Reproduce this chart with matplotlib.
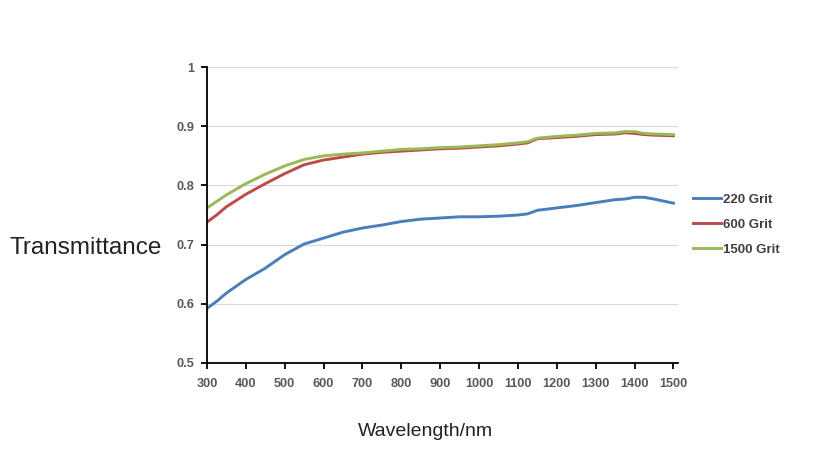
import matplotlib
matplotlib.use('Agg')
import matplotlib.pyplot as plt


WAVELENGTH = [300, 325, 350, 400, 450, 500, 550, 600, 650, 700, 750, 800,
              850, 900, 950, 1000, 1050, 1100, 1125, 1150, 1200, 1250, 1300,
              1350, 1375, 1400, 1425, 1450, 1500]
GRIT_220 = [0.592, 0.604, 0.618, 0.641, 0.660, 0.683, 0.701, 0.711, 0.721,
            0.728, 0.733, 0.739, 0.743, 0.745, 0.747, 0.747, 0.748, 0.750,
            0.752, 0.758, 0.762, 0.766, 0.771, 0.776, 0.777, 0.780, 0.780,
            0.777, 0.770]
GRIT_600 = [0.738, 0.750, 0.764, 0.785, 0.803, 0.820, 0.835, 0.843, 0.848,
            0.853, 0.856, 0.858, 0.860, 0.862, 0.863, 0.865, 0.867, 0.870,
            0.872, 0.879, 0.881, 0.883, 0.886, 0.887, 0.889, 0.888, 0.886,
            0.885, 0.884]
GRIT_1500 = [0.762, 0.773, 0.784, 0.803, 0.819, 0.833, 0.844, 0.850, 0.853,
             0.855, 0.858, 0.861, 0.862, 0.864, 0.865, 0.867, 0.869, 0.872,
             0.874, 0.880, 0.883, 0.885, 0.888, 0.889, 0.891, 0.891, 0.888,
             0.887, 0.886]
SERIES = [
    ('220 Grit', GRIT_220, '#4A7EBB'),
    ('600 Grit', GRIT_600, '#BE4B48'),
    ('1500 Grit', GRIT_1500, '#98B954'),
]
X_TICKS = list(range(300, 1501, 100))
Y_TICKS = [0.5, 0.6, 0.7, 0.8, 0.9, 1.0]
Y_TICK_LABELS = ['0.5', '0.6', '0.7', '0.8', '0.9', '1']


def main():
    plt.rcParams['font.family'] = ['Liberation Sans', 'DejaVu Sans']
    fig = plt.figure(figsize=(8.18, 4.57), dpi=100)
    ax = fig.add_axes([0.253, 0.206, 0.576, 0.647])

    for label, values, color in SERIES:
        ax.plot(WAVELENGTH, values, color=color, linewidth=2.1, label=label)

    ax.set_xlim(300, 1512)
    ax.set_ylim(0.5, 1.0)
    ax.set_xticks(X_TICKS)
    ax.set_yticks(Y_TICKS)
    ax.set_yticklabels(Y_TICK_LABELS)
    ax.grid(axis='y', color='#d9d9d9', linewidth=0.8)
    ax.set_axisbelow(True)

    for side in ['top', 'right']:
        ax.spines[side].set_visible(False)
    for side in ['left', 'bottom']:
        ax.spines[side].set_linewidth(1.3)
        ax.spines[side].set_color('black')
    ax.tick_params(direction='out', length=4, width=1.3, color='black',
                   labelsize=9.2, labelcolor='#595959', pad=5)
    ax.tick_params(axis='x', pad=7)
    for t in ax.get_xticklabels() + ax.get_yticklabels():
        t.set_fontweight('bold')

    fig.text(9 / 818, 1 - 248 / 457, 'Transmittance', fontsize=17.5,
             color='#222222', ha='left', va='center')
    fig.text(425 / 818, 1 - 432 / 457, 'Wavelength/nm', fontsize=14,
             color='#222222', ha='center', va='center')

    leg = ax.legend(loc='upper left', bbox_to_anchor=(681 / 818, 1 - 182 / 457),
                    bbox_transform=fig.transFigure, frameon=False,
                    handlelength=2.1, handletextpad=0.2, labelspacing=0.95,
                    prop={'size': 9.5, 'weight': 'bold'})
    for t in leg.get_texts():
        t.set_color('#404040')

    fig.savefig('out.png', dpi=100)
    plt.close(fig)


if __name__ == '__main__':
    main()
